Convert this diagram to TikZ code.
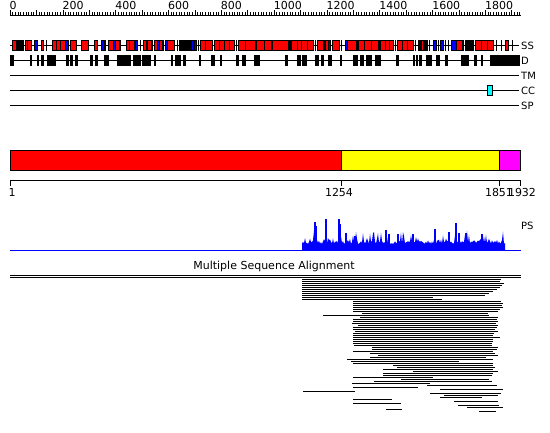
\documentclass[tikz,border=0pt]{standalone}
\usepackage{fontspec}
\setmainfont{DejaVu Sans}
\definecolor{pred}{RGB}{255,0,0}
\definecolor{pblue}{RGB}{0,0,255}
\definecolor{pyellow}{RGB}{255,255,0}
\definecolor{pmag}{RGB}{255,0,255}
\definecolor{pcyan}{RGB}{0,255,255}
\begin{document}
\begin{tikzpicture}[x=1pt,y=-1pt,
  trk/.style={line width=1pt,draw=black},
  rultick/.style={line width=0.6pt,draw=black},
  ssred/.style={fill=pred,draw=black,line width=0.8pt},
  ssblue/.style={fill=pblue,draw=black,line width=0.8pt},
  blk/.style={fill=black,draw=black,line width=0.6pt},
  sstick/.style={line width=1pt,draw=black},
  bar/.style={draw=black,line width=0.8pt},
  lbl/.style={font=\fontsize{10}{12}\selectfont,anchor=west,inner sep=0pt},
  num/.style={font=\fontsize{11}{13}\selectfont,inner sep=0pt},
  msa/.style={line width=1pt,draw=black}]
\useasboundingbox (0,0) rectangle (550,433);

% ---- ruler ----
\draw[trk] (10,15.5) -- (521,15.5);
\foreach \r in {0,10,...,1930} \draw[rultick] ({10+\r*0.2641},15.5) -- ++(0,-3);
\foreach \r in {0,100,...,1900} \draw[rultick] ({10+\r*0.2641},15.5) -- ++(0,-5);
\foreach \r in {0,200,...,1800} \node[num,anchor=base west] (r\r) at ({9.5+\r*0.2641},10) {\r};

% ---- track baselines ----
\draw[trk] (10,45.5) -- (519,45.5);
\draw[trk] (10,60.5) -- (519,60.5);
\draw[trk] (10,75.5) -- (519,75.5);
\draw[trk] (10,90.5) -- (519,90.5);
\draw[trk] (10,105.5) -- (519,105.5);

% ---- SS ----
\foreach \x in {46,105,120,140,152,163,177,198,236,290,315,324,341,357,379,395,415,429,438,445,448,463,473,496,501,512}
  \draw[sstick] (\x,40) -- (\x,51);
\foreach \a/\b in {16/23,179/190,418/421,423/427,465/472}
  \filldraw[blk] (\a,40.5) rectangle (\b,50.5);
\foreach \a/\b in {12/16,25/27.5,27.5/31,41/43.7,52/56,56/60,60/65,70/76,81/88,94/97,108/113,115.5/119,126/129,129/134,143/146,147.5/151,154/157,159/162,167/174,200/205,205/212,214/219,219/224,224/229,229/234,238/245,245/255,256/264,264/271,272/288,291/297,297/301,301/307,307/313,317/323,325/328,332/339,347/356,358/364,364/371,371/378,380/385,385/389,389/393,397/402,402/407,407/413,421/423,456/462,475/481,481/487,487/493,505/508}
  \filldraw[ssred] (\a,40.5) rectangle (\b,50.5);
\foreach \a/\b in {34/37,65/68,101/104,113/115.5,135/137.7,146/147.5,157/159,165/167,191/193,194/196,288/289.5,328/330,345/347,433/436,440.5/443,451.7/456}
  \filldraw[ssblue] (\a,40.5) rectangle (\b,50.5);

% ---- D ----
\foreach \a/\b in {10/13.3,30/31.7,37/38.7,41/43.7,47.7/51.7,52.7/55.7,66.7/68.3,70.3/72,75.7/77.7,90.7/92.7,95/97,104.3/108.3,117/128,129/130.5,133/136,137/140.5,142/145,146/150.5,154/155,171.7/172.7,175/176.7,177.7/180,183.3/185.7,199/200.7,211/214.3,220/221,236.7/238.3,242.3/245,254/259,285.7/287.7,297.7/300,302.3/306.7,315.7/318.3,321/323.3,328.3/331.7,340.5/341.5,353.3/355,355.7/357.7,360.7/363.3,366.7/371,375.7/380,396.7/398.3,413.3/414.3,416.7/417.7,419/421.7,426.7/431.7,436.7/439.3,445/447.7,461.7/468.3,474.3/476,481/482.3,490.7/507,508.3/519}
  \filldraw[blk] (\a,55.5) rectangle (\b,65.5);

% ---- CC box ----
\filldraw[fill=pcyan,draw=black,line width=0.8pt] (487.5,85.5) rectangle (492.5,95.5);

% ---- track labels ----
\node[lbl] (lSS) at (521,45.5) {SS};
\node[lbl] (lD) at (521,60.5) {D};
\node[lbl] (lTM) at (521,75.5) {TM};
\node[lbl] (lCC) at (521,90.5) {CC};
\node[lbl] (lSP) at (521,105.5) {SP};

% ---- domain bar ----
\filldraw[bar,fill=pred] (10.5,150.5) rectangle (341,170.5);
\filldraw[bar,fill=pyellow] (341,150.5) rectangle (499,170.5);
\filldraw[bar,fill=pmag] (499,150.5) rectangle (520.5,170.5);

% ---- axis ----
\draw[trk] (10,180.5) -- (520.5,180.5);
\foreach \x in {10.5,341,499,520.5} \draw[trk] (\x,180.5) -- (\x,186);
\node[num,anchor=base west] (a1) at (8.5,197) {1};
\node[num,anchor=base] (a1254) at (339,197) {1254};
\node[num,anchor=base] (a1851) at (499,197) {1851};
\node[num,anchor=base] (a1932) at (522,197) {1932};

% ---- PS profile ----
\pgfmathsetseed{4242}
\fill[pblue] (302,250) \foreach \x in {302,303,...,505} { -- (\x,{250-6-3*rnd-12*rnd^6}) } -- (505,250) -- cycle;
\foreach \x/\h in {315/222,316/226,326/219,339/219,340/224,346/233,355/236,386/230,389/234,398/234,413/234,435/229,449/232,456/223,459/233,466/233,482/234}
  \fill[pblue] (\x-0.7,250) rectangle (\x+0.7,\h);
\draw[line width=1pt,pblue] (10,250.5) -- (521,250.5);
\node[lbl] (lPS) at (521,226) {PS};

% ---- MSA ----
\node[num,anchor=base] (msat) at (274,270) {Multiple Sequence Alignment};
\draw[msa] (10,275.5) -- (520.5,275.5);
\draw[msa] (10,277.5) -- (520.5,277.5);
\foreach \y/\a/\b in {
279/302/501,281/302/500,283/302/504,285/302/502,287/302/500,289/302/497,291/302/493,293/302/489,295/302/485,297/302/433,299/302/442,
301/353/501,303/353/503,305/353/502,307/353/503,309/353/500,311/353/498,313/362/488,315/323/489,317/360/498,319/353/497,321/353/498,323/352/496,325/358/498,327/353/497,329/353/495,331/355/498,333/353/494,335/353/493,337/353/500,339/353/493,
341/353/493,343/353/492,345/354/492,347/372/498,349/372/497,351/353/493,353/370/495,355/378/498,357/370/486,359/347/493,361/351/459,363/353/493,365/393/493,367/397/495,369/383/493,371/413/498,373/383/493,375/383/492,377/353/433,379/401/489,381/374/492,383/352/430,385/427/497,387/353/418,389/440/503,391/303/355,393/430/501,395/444/498,397/440/482,399/353/392,401/454/498,403/353/401,405/458/499,407/467/503,409/386/402,411/479/496}
  \draw[msa] (\a,\y+0.5) -- (\b,\y+0.5);
\end{tikzpicture}
\end{document}
